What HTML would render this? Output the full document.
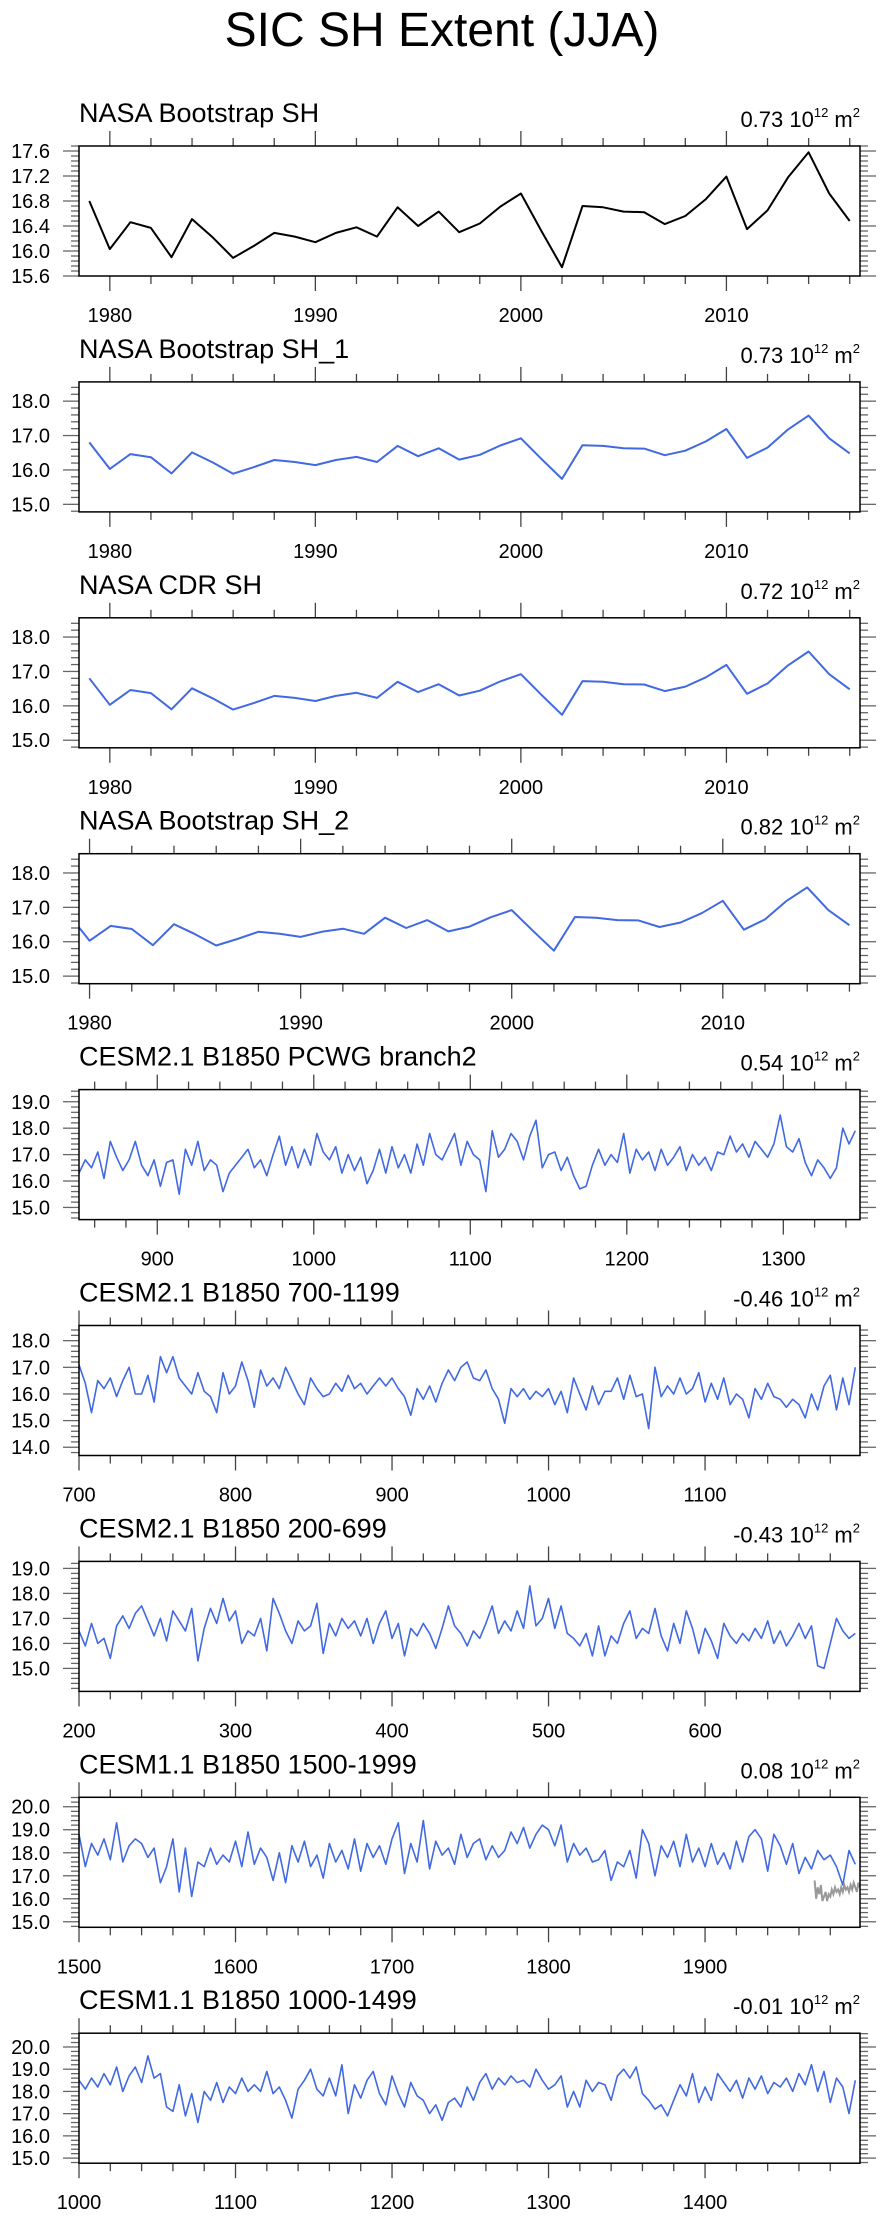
<!DOCTYPE html>
<html><head><meta charset="utf-8">
<style>
html,body{margin:0;padding:0;background:#fff;}
body{width:884px;height:2219px;overflow:hidden;font-family:"Liberation Sans",sans-serif;}
svg{display:block;}
</style></head>
<body>
<svg id="chart" width="884" height="2219" viewBox="0 0 884 2219" xmlns="http://www.w3.org/2000/svg">
<text x="442" y="46" text-anchor="middle" font-family="Liberation Sans, sans-serif" font-size="48" fill="#000">SIC SH Extent (JJA)</text>
</svg>
<script>
// ---- data ----
const obsYears = [1979,1980,1981,1982,1983,1984,1985,1986,1987,1988,1989,1990,1991,1992,1993,1994,1995,1996,1997,1998,1999,2000,2001,2002,2003,2004,2005,2006,2007,2008,2009,2010,2011,2012,2013,2014,2015,2016];
const obsValues = [16.80,16.03,16.46,16.37,15.90,16.51,16.22,15.89,16.08,16.29,16.23,16.14,16.29,16.38,16.23,16.70,16.40,16.63,16.30,16.44,16.71,16.92,16.32,15.74,16.72,16.70,16.63,16.62,16.43,16.56,16.83,17.19,16.35,16.65,17.18,17.58,16.92,16.48];

const branch2Values = [16.3,16.8,16.5,17.1,16.1,17.5,16.9,16.4,16.8,17.5,16.6,16.2,16.8,15.8,16.7,16.8,15.5,17.2,16.6,17.5,16.4,16.8,16.6,15.6,16.3,16.6,16.9,17.2,16.5,16.8,16.2,17.0,17.7,16.6,17.3,16.5,17.2,16.6,17.8,17.1,16.8,17.3,16.3,17.0,16.4,16.9,15.9,16.4,17.2,16.3,17.3,16.5,17.0,16.3,17.4,16.6,17.8,17.0,16.8,17.3,17.8,16.6,17.5,17.0,16.8,15.6,17.9,16.9,17.2,17.8,17.5,16.8,17.7,18.3,16.5,17.0,17.1,16.4,16.9,16.2,15.7,15.8,16.6,17.2,16.6,17.0,16.7,17.8,16.3,17.2,16.8,17.1,16.4,17.2,16.6,16.9,17.3,16.4,17.0,16.6,16.9,16.4,17.1,17.0,17.7,17.1,17.4,16.9,17.5,17.2,16.9,17.4,18.5,17.3,17.1,17.6,16.7,16.2,16.8,16.5,16.1,16.5,18.0,17.4,17.9];

const run700Values = [17.1,16.4,15.3,16.5,16.2,16.6,15.9,16.5,17.0,16.0,16.0,16.7,15.7,17.4,16.8,17.4,16.6,16.3,16.0,16.8,16.1,15.9,15.3,16.8,16.0,16.3,17.2,16.5,15.5,16.9,16.3,16.6,16.2,17.0,16.5,16.0,15.6,16.6,16.2,15.9,16.0,16.4,16.1,16.7,16.2,16.4,16.0,16.3,16.6,16.3,16.6,16.2,15.9,15.2,16.2,15.8,16.3,15.7,16.4,16.9,16.5,17.0,17.2,16.6,16.5,16.9,16.2,15.8,14.9,16.2,15.9,16.2,15.8,16.1,15.9,16.2,15.6,16.1,15.3,16.6,16.0,15.4,16.3,15.6,16.1,16.1,16.6,15.8,16.7,15.9,16.0,14.7,17.0,15.9,16.3,16.0,16.6,16.0,16.2,16.8,15.7,16.4,15.8,16.6,15.6,16.0,15.8,15.1,16.2,15.8,16.4,15.9,15.8,15.5,15.8,15.6,15.1,16.0,15.4,16.3,16.7,15.4,16.6,15.6,17.0];

const run200Values = [16.5,15.9,16.8,16.0,16.2,15.4,16.7,17.1,16.6,17.2,17.5,16.9,16.3,17.0,16.1,17.3,16.9,16.5,17.4,15.3,16.6,17.4,16.8,17.8,16.9,17.3,16.0,16.5,16.3,17.0,15.7,17.8,17.2,16.5,16.0,16.9,16.5,16.7,17.6,15.6,16.8,16.3,17.0,16.6,16.9,16.3,17.0,16.0,16.8,17.3,16.2,16.8,15.5,16.6,16.3,16.8,16.4,15.8,16.6,17.5,16.7,16.4,15.9,16.5,16.2,16.8,17.5,16.4,16.9,16.5,17.3,16.6,18.3,16.7,17.0,17.8,16.6,17.5,16.4,16.2,15.9,16.4,15.5,16.7,15.5,16.3,16.0,16.8,17.3,16.2,16.6,16.4,17.4,16.3,15.7,16.8,16.0,17.3,16.6,15.6,16.6,16.1,15.4,16.8,16.3,16.0,16.4,16.1,16.6,16.2,16.9,16.0,16.5,15.9,16.3,16.8,16.2,16.7,15.1,15.0,16.0,17.0,16.5,16.2,16.4];

const run1500Values = [18.8,17.4,18.4,17.9,18.6,17.7,19.3,17.6,18.3,18.6,18.4,17.8,18.2,16.7,17.4,18.6,16.3,18.2,16.1,17.6,17.4,18.2,17.5,17.9,17.6,18.5,17.4,18.9,17.5,18.2,17.8,16.8,18.0,16.7,18.3,17.6,18.5,17.4,17.9,16.9,18.4,17.6,18.1,17.3,18.6,17.2,18.4,17.8,18.3,17.5,18.6,19.3,17.1,18.4,17.6,19.4,17.3,18.5,17.9,18.2,17.5,18.8,17.8,18.4,18.6,17.7,18.3,17.8,18.1,18.9,18.4,19.1,18.2,18.8,19.2,19.0,18.3,19.2,17.6,18.4,17.9,18.2,17.6,17.7,18.1,16.8,17.6,17.4,18.1,16.9,19.0,18.4,17.0,18.3,17.8,18.5,17.4,18.8,17.6,18.2,17.4,18.4,17.5,18.0,17.3,18.5,17.6,18.7,19.0,18.6,17.2,18.8,18.3,17.5,18.4,17.1,17.8,17.3,18.1,17.7,17.9,17.4,16.6,18.1,17.5];
const run1500GreyYears = [1970,1971,1972,1973,1974,1975,1976,1977,1978,1979,1980,1981,1982,1983,1984,1985,1986,1987,1988,1989,1990,1991,1992,1993,1994,1995,1996,1997,1998,1999];
const run1500GreyValues = [16.8,16.0,16.5,16.2,16.6,15.9,16.1,16.3,15.9,16.2,16.1,16.4,16.2,16.5,16.3,16.4,16.2,16.5,16.3,16.6,16.4,16.5,16.3,16.6,16.4,16.7,16.5,16.3,16.7,16.5];

const run1000Values = [18.5,18.1,18.6,18.2,18.8,18.3,19.1,18.0,18.7,19.1,18.4,19.6,18.6,18.8,17.3,17.1,18.3,16.9,17.9,16.6,18.0,17.6,18.4,17.5,18.2,17.9,18.6,18.0,18.3,18.0,18.9,17.9,18.2,17.6,16.8,18.1,18.5,19.0,18.1,17.8,18.6,17.8,19.2,17.0,18.3,17.7,18.5,18.9,17.9,17.4,18.7,17.9,17.3,18.4,17.8,17.6,17.0,17.4,16.7,17.5,17.7,17.3,18.2,17.6,18.4,18.8,18.1,18.6,18.3,18.7,18.4,18.5,18.2,19.0,18.5,18.1,18.3,18.7,17.3,18.0,17.3,18.5,18.0,18.4,18.3,17.6,18.7,19.0,18.6,19.1,17.9,17.6,17.2,17.4,16.9,17.6,18.3,17.8,18.8,17.5,18.2,17.6,18.8,18.4,18.0,18.5,17.7,18.6,18.1,18.7,17.9,18.4,18.2,18.6,18.0,18.8,18.3,19.2,18.0,18.9,17.5,18.6,18.2,17.0,18.5];

const panelTitles = ["NASA Bootstrap SH","NASA Bootstrap SH_1","NASA CDR SH","NASA Bootstrap SH_2","CESM2.1 B1850 PCWG branch2","CESM2.1 B1850 700-1199","CESM2.1 B1850 200-699","CESM1.1 B1850 1500-1999","CESM1.1 B1850 1000-1499"];
const panelTrends = ["0.73","0.73","0.72","0.82","0.54","-0.46","-0.43","0.08","-0.01"];
const xDomains = [[1978.5,2016.5],[1978.5,2016.5],[1978.5,2016.5],[1979.5,2016.5],[850,1349],[700,1199],[200,699],[1500,1999],[1000,1499]];
const yDomains = [[15.6,17.68],[14.78,18.56],[14.78,18.56],[14.78,18.56],[14.54,19.46],[13.69,18.57],[14.08,19.28],[14.76,20.41],[14.77,20.62]];
const yMajorTicks = [[15.6,16.0,16.4,16.8,17.2,17.6],[15,16,17,18],[15,16,17,18],[15,16,17,18],[15,16,17,18,19],[14,15,16,17,18],[15,16,17,18,19],[15,16,17,18,19,20],[15,16,17,18,19,20]];
const yMinorStep = [0.08,0.2,0.2,0.2,0.2,0.2,0.2,0.2,0.2];
const xMajorTicks = [[1980,1990,2000,2010],[1980,1990,2000,2010],[1980,1990,2000,2010],[1980,1990,2000,2010],[900,1000,1100,1200,1300],[700,800,900,1000,1100],[200,300,400,500,600],[1500,1600,1700,1800,1900],[1000,1100,1200,1300,1400]];
const xMinorStep = [2,2,2,2,20,20,20,20,20];
const longSeries = [null,null,null,null,branch2Values,run700Values,run200Values,run1500Values,run1000Values];
const longStart = [0,0,0,0,850,700,200,1500,1000];
const longEnd = [0,0,0,0,1346,1196,696,1996,1496];

// ---- drawing ----
const NS = "http://www.w3.org/2000/svg";
const svg = document.getElementById("chart");
const L = 79, R = 860, H = 130, TOP0 = 146, GAP = 235.9;
function mk(tag, attrs, parent){
  const e = document.createElementNS(NS, tag);
  for (const k in attrs) e.setAttribute(k, attrs[k]);
  (parent || svg).appendChild(e);
  return e;
}

for (let p = 0; p < 9; p++) {
  const top = TOP0 + p*GAP, bot = top + H;
  const [x0, x1] = xDomains[p], [y0, y1] = yDomains[p];
  const sx = v => L + (v - x0) / (x1 - x0) * (R - L);
  const sy = v => bot - (v - y0) / (y1 - y0) * H;
  const g = mk("g", {});
  
  

  const t = mk("text", {x: L, y: top - 24, "font-size": 27, fill: "#000"}, g);
  t.textContent = panelTitles[p];
  
  

  const tr = mk("text", {x: R, y: top - 19, "font-size": 22, fill: "#000", "text-anchor": "end"}, g);
  
  
  const s1 = mk("tspan", {}, tr); s1.textContent = panelTrends[p] + " 10";
  const s2 = mk("tspan", {"font-size": 13, dy: -10}, tr); s2.textContent = "12";
  const s3 = mk("tspan", {dy: 10}, tr); s3.textContent = " m";
  const s4 = mk("tspan", {"font-size": 13, dy: -10}, tr); s4.textContent = "2";

  const yt = mk("g", {stroke: "#666", "stroke-width": 1.3}, g);
  
  
  const ms = yMinorStep[p];
  const startM = Math.ceil(y0 / ms - 1e-6);
  for (let k = startM; k * ms <= y1 + 1e-6; k++) {
    const v = k * ms, y = sy(v);
    const isMajor = yMajorTicks[p].some(m => Math.abs(m - v) < 1e-6);
    const len = isMajor ? 16 : 8;
    mk("line", {x1: L - len, x2: L, y1: y, y2: y}, yt);
    mk("line", {x1: R, x2: R + len, y1: y, y2: y}, yt);
  }
  yMajorTicks[p].forEach(v => {
    const lb = mk("text", {x: 50, y: sy(v) + 7, "font-size": 20, "text-anchor": "end", fill: "#000"}, g);
    lb.textContent = v.toFixed(1);
    
    
  });

  const xt = mk("g", {stroke: "#444", "stroke-width": 1.3}, g);
  
  
  const xs = xMinorStep[p];
  for (let v = Math.ceil(x0 / xs) * xs; v <= x1; v += xs) {
    const isMajor = xMajorTicks[p].indexOf(v) >= 0;
    const len = isMajor ? 15 : 8;
    const x = sx(v);
    mk("line", {x1: x, x2: x, y1: top - len, y2: top}, xt);
    mk("line", {x1: x, x2: x, y1: bot, y2: bot + len}, xt);
  }
  xMajorTicks[p].forEach(v => {
    const lb = mk("text", {x: sx(v), y: bot + 46, "font-size": 20, "text-anchor": "middle", fill: "#000"}, g);
    lb.textContent = String(v);
    
    
  });

  const cp = mk("clipPath", {id: "clip" + p}, g);
  mk("rect", {x: L, y: top, width: R - L, height: H}, cp);

  let pts = [];
  if (longSeries[p]) {
    const vals = longSeries[p], n = vals.length;
    const step = (longEnd[p] - longStart[p]) / (n - 1);
    pts = vals.map((v, i) => sx(longStart[p] + i*step).toFixed(1) + "," + sy(v).toFixed(1));
  } else {
    pts = obsYears.map((yr, i) => sx(yr).toFixed(1) + "," + sy(obsValues[i]).toFixed(1));
  }
  const line = mk("polyline", {points: pts.join(" "), fill: "none", stroke: p === 0 ? "#000" : "#4169e1", "stroke-width": longSeries[p] ? 1.6 : 2, "stroke-linejoin": "round", "clip-path": "url(#clip" + p + ")"}, g);
  
  

  if (p === 7) {
    const gp = run1500GreyYears.map((yr, i) => sx(yr).toFixed(1) + "," + sy(run1500GreyValues[i]).toFixed(1));
    const gl = mk("polyline", {points: gp.join(" "), fill: "none", stroke: "#999", "stroke-width": 2, "clip-path": "url(#clip7)"}, g);
    
    
  }

  const box = mk("rect", {x: L, y: top, width: R - L, height: H, fill: "none", stroke: "#000", "stroke-width": 1.5}, g);
  
  
}
</script>
</body></html>
